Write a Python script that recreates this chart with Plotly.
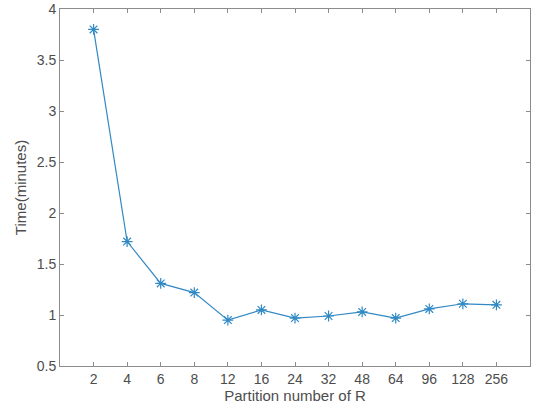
import plotly.graph_objects as go

categories = ["2", "4", "6", "8", "12", "16", "24", "32", "48", "64", "96", "128", "256"]
times = [3.80, 1.72, 1.31, 1.22, 0.95, 1.05, 0.97, 0.99, 1.03, 0.97, 1.06, 1.11, 1.10]
y_ticks = [0.5, 1, 1.5, 2, 2.5, 3, 3.5, 4]
y_tick_labels = ["0.5", "1", "1.5", "2", "2.5", "3", "3.5", "4"]

positions = list(range(1, len(categories) + 1))

line_color = "#3189c4"

fig = go.Figure()
fig.add_trace(go.Scatter(
    x=positions, y=times, mode="lines+markers",
    line=dict(color=line_color, width=1.2),
    marker=dict(symbol="asterisk-open", size=9, color=line_color,
                line=dict(color=line_color, width=1.2)),
    showlegend=False,
))

axis_color = "#8c8c8c"
font_color = "#4d4d4d"

fig.update_layout(
    width=540, height=410,
    margin=dict(l=60, r=10, t=9, b=44, autoexpand=False),
    paper_bgcolor="white", plot_bgcolor="white",
    font=dict(family="Liberation Sans, Arial, sans-serif", size=14, color=font_color),
    xaxis=dict(
        range=[0, len(categories) + 1],
        tickmode="array", tickvals=positions, ticktext=categories,
        ticks="inside", ticklen=4, tickcolor=axis_color,
        showline=True, linecolor=axis_color, linewidth=1, mirror="ticks",
        showgrid=False, zeroline=False, automargin=False,
        title=dict(text="Partition number of R", standoff=2, font=dict(size=15)),
        tickfont=dict(size=14),
    ),
    yaxis=dict(
        range=[0.5, 4],
        tickmode="array", tickvals=y_ticks, ticktext=y_tick_labels,
        ticks="inside", ticklen=4, tickcolor=axis_color,
        showline=True, linecolor=axis_color, linewidth=1, mirror="ticks",
        showgrid=False, zeroline=False, automargin=False,
        title=dict(text="Time(minutes)", standoff=6, font=dict(size=15)),
        tickfont=dict(size=14),
    ),
)

fig.write_html("out.html")
